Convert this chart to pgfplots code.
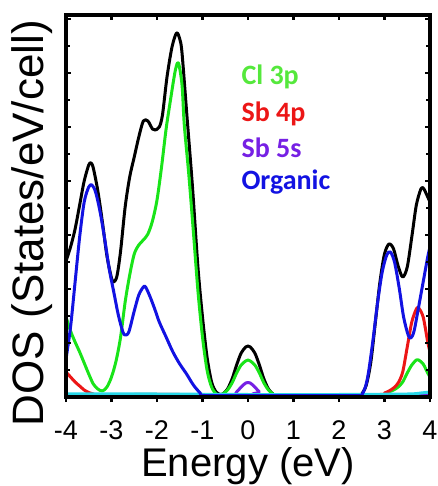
\documentclass[border=0pt]{standalone}
\usepackage{fontspec}
\setmainfont{Liberation Sans}
\newfontfamily\legfont{Carlito}
\usepackage{pgfplots}
\usepackage{pgfplotstable}
\pgfplotsset{compat=1.18}
\usetikzlibrary{calc}

\definecolor{dosgreen}{RGB}{25,228,25}
\definecolor{labgreen}{RGB}{85,232,60}
\definecolor{dosred}{RGB}{236,22,22}
\definecolor{dospurple}{RGB}{118,32,228}
\definecolor{dosblue}{RGB}{18,18,226}
\definecolor{doscyan}{RGB}{40,215,232}

% total density of states
\pgfplotstableread{
E v
-4.00 136
-3.90 150
-3.80 168
-3.70 192
-3.60 216
-3.50 232
-3.45 234
-3.40 229
-3.30 206
-3.20 175
-3.10 141
-3.00 119
-2.95 115
-2.88 121
-2.80 146
-2.70 190
-2.60 220
-2.50 240
-2.40 260
-2.30 276
-2.20 276
-2.10 268
-2.04 267
-1.95 270
-1.88 282
-1.78 320
-1.67 350
-1.57 364
-1.50 358
-1.45 344
-1.34 280
-1.22 210
-1.10 130
-1.00 80
-0.90 40
-0.80 15
-0.70 5
-0.60 2.5
-0.55 3
-0.45 8
-0.35 18
-0.25 32
-0.15 44
-0.05 50
0.00 51
0.05 50
0.15 44
0.25 32
0.35 18
0.45 8
0.55 3
0.65 2
1.50 2
2.45 2
2.50 3
2.60 12
2.70 35
2.80 75
2.90 115
3.00 143
3.10 153
3.20 148
3.30 131
3.40 120
3.50 130
3.60 160
3.70 192
3.80 208
3.85 209
3.90 205
4.00 195
}\tot

% Cl 3p
\pgfplotstableread{
E v
-4.00 80
-3.90 66
-3.80 55
-3.70 45
-3.60 34
-3.50 23
-3.40 13
-3.30 8
-3.20 6
-3.10 10
-3.00 20
-2.90 36
-2.80 60
-2.70 95
-2.60 122
-2.50 143
-2.40 152
-2.30 157
-2.20 163
-2.10 176
-2.00 197
-1.90 230
-1.80 268
-1.70 298
-1.60 326
-1.53 334
-1.45 312
-1.40 272
-1.30 222
-1.20 165
-1.10 106
-1.00 60
-0.90 27
-0.80 10
-0.70 3
-0.62 2
-0.55 3
-0.45 7
-0.35 14
-0.25 24
-0.15 32
-0.05 36
0.00 37
0.05 36
0.15 32
0.25 24
0.35 14
0.45 7
0.55 3
0.65 2
1.80 2
2.90 2
3.00 3
3.10 5
3.20 7
3.30 10
3.40 15
3.50 24
3.60 32
3.70 37
3.75 37
3.85 33
3.95 24
4.00 20
}\clp

% Sb 4p
\pgfplotstableread{
E v
-4.00 25
-3.90 20
-3.80 15
-3.70 11
-3.60 7
-3.50 4.5
-3.40 3
-3.30 2.2
-2.50 2.5
-1.50 2.5
0.00 2
1.50 2
2.90 2.5
3.00 4
3.10 6
3.20 9
3.30 14
3.40 25
3.50 50
3.60 75
3.70 88
3.75 89
3.85 80
3.95 55
4.00 45
}\sbp

% Sb 5s
\pgfplotstableread{
E v
-4.00 3
-3.70 2
-1.00 2
-0.35 2
-0.25 5
-0.15 10
-0.05 14
0.00 14.5
0.05 14
0.15 10
0.25 5
0.35 2
4.00 2
}\sbs

% remaining contributions
\pgfplotstableread{
E v
-4.00 3
-2.00 3
0.00 2.5
2.00 2.5
3.50 3
3.80 4
4.00 5
}\rest

% organic part
\pgfplotstableread{
E v
-4.00 38
-3.90 70
-3.80 115
-3.70 160
-3.60 195
-3.50 210
-3.43 212
-3.35 205
-3.25 185
-3.15 158
-3.05 128
-2.95 105
-2.85 82
-2.75 65
-2.70 62
-2.62 65
-2.50 86
-2.40 102
-2.30 110
-2.25 110
-2.15 100
-2.05 88
-1.95 75
-1.80 60
-1.65 45
-1.50 33
-1.35 23
-1.20 12
-1.05 4
-0.95 1.5
0.00 1.5
1.50 1.5
2.45 1.5
2.50 2
2.58 10
2.65 25
2.75 58
2.85 95
2.95 125
3.05 142
3.13 145
3.22 135
3.32 110
3.42 80
3.52 62
3.58 59
3.65 66
3.75 90
3.85 115
3.95 140
4.00 150
}\org

\begin{document}
\begin{tikzpicture}
\pgfplotsset{
  dosframe/.style={
    width=364pt, height=382pt, scale only axis,
    xmin=-4, xmax=4, ymin=0, ymax=382,
    axis line style={line width=3.5pt, black},
    tick style={line width=2.5pt, black},
  }
}
\begin{axis}[
  dosframe,
  xtick={-4,-3,-2,-1,0,1,2,3,4},
  xticklabels={-4,-3,-2,-1,0,1,2,3,4},
  xtick pos=left,
  ytick=\empty,
  tick align=outside,
  major tick length=5pt,
  ticklabel style={font=\fontsize{27}{30}\selectfont},
  xticklabel style={yshift=-15pt},
  xlabel={Energy (eV)},
  xlabel style={font=\fontsize{40}{44}\selectfont, at={(axis description cs:0.5,-0.207)}, anchor=base},
  ylabel={DOS (States/eV/cell)},
  ylabel style={font=\fontsize{44}{48}\selectfont, at={(axis description cs:-0.063,0.455)}, anchor=base, rotate=0},
  every axis plot/.append style={line width=3pt, smooth, tension=0.5, line join=round},
]
\addplot[black] table[x=E, y=v] {\tot};
\addplot[dosgreen] table[x=E, y=v] {\clp};
\addplot[dosred] table[x=E, y=v] {\sbp};
\addplot[dospurple] table[x=E, y=v] {\sbs};
\addplot[doscyan] table[x=E, y=v] {\rest};
\addplot[dosblue] table[x=E, y=v] {\org};

\node[anchor=base west, text=labgreen, font=\legfont\bfseries\fontsize{28}{30}\selectfont] at (axis cs:-0.22,312) {Cl 3p};
\node[anchor=base west, text=dosred, font=\legfont\bfseries\fontsize{28}{30}\selectfont] at (axis cs:-0.22,275) {Sb 4p};
\node[anchor=base west, text=dospurple, font=\legfont\bfseries\fontsize{28}{30}\selectfont] at (axis cs:-0.22,239) {Sb 5s};
\node[anchor=base west, text=dosblue, font=\legfont\bfseries\fontsize{28}{30}\selectfont] at (axis cs:-0.22,207) {Organic};
\end{axis}
% inward ticks on the left, right and top sides
\begin{axis}[
  dosframe,
  xtick={-4,-3,-2,-1,0,1,2,3,4},
  xticklabels={},
  xtick pos=right,
  ytick={0,54,...,378},
  minor y tick num=1,
  yticklabels={},
  ytick pos=both,
  tick align=inside,
  major tick length=5pt,
  minor tick length=3.5pt,
  minor tick style={line width=2.5pt, black},
]
\end{axis}
\pgfresetboundingbox
\path ($(current axis.south west)+(-66pt,-89pt)$) rectangle ($(current axis.north east)+(8pt,15pt)$);
\end{tikzpicture}
\end{document}
